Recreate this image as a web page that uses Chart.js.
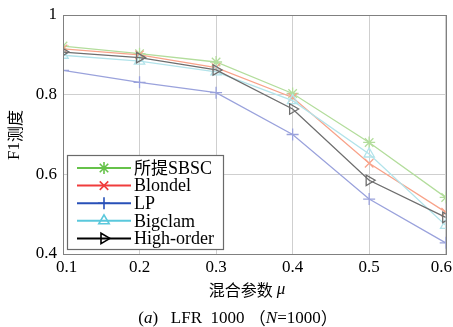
<!DOCTYPE html>
<html><head><meta charset="utf-8">
<script src="https://cdn.jsdelivr.net/npm/chart.js@4/dist/chart.umd.min.js"></script>
<style>html,body{margin:0;padding:0;background:#fff}#wrap{width:453px;height:327px}</style>
</head><body><div id="wrap"><canvas id="c" width="453" height="327"></canvas></div>
<script>
const mu = [0.1, 0.2, 0.3, 0.4, 0.5, 0.6];
const xTickLabels = ['0.1','0.2','0.3','0.4','0.5','0.6'];
const yTickLabels = ['0.4','0.6','0.8','1'];
const seriesNames = ['所提SBSC','Blondel','LP','Bigclam','High-order'];
const sbsc      = [0.922, 0.903, 0.882, 0.803, 0.680, 0.542];
const blondel   = [0.915, 0.900, 0.868, 0.793, 0.628, 0.505];
const lp        = [0.861, 0.831, 0.805, 0.700, 0.538, 0.428];
const bigclam   = [0.899, 0.884, 0.857, 0.785, 0.651, 0.472];
const highOrder = [0.907, 0.893, 0.862, 0.764, 0.585, 0.492];
const xTitle = '混合参数';
const yTitle = ['F1','测度'];

const SERIF = '"Liberation Serif","DejaVu Serif",serif';
const CJK = '"Noto Sans CJK SC","Liberation Serif",serif';

const lineColors = ['#b3dd9c','#f8a38a','#9aa2dc','#b2e3ea','#6e6e6e'];
const legendColors = ['#66c24a','#f03c3c','#2850b8','#5ac8dc','#000000'];
const styles = ['star','crossRot','cross','triangle','triangle'];
const rots = [0,0,0,0,90];
const allData = [sbsc, blondel, lp, bigclam, highOrder];

const datasets = allData.map((d,i)=>({
  label: seriesNames[i],
  data: d.map((v,j)=>({x: mu[j], y: v})),
  borderColor: lineColors[i],
  backgroundColor: 'rgba(0,0,0,0)',
  borderWidth: 1.3,
  pointStyle: styles[i],
  pointRotation: rots[i],
  pointRadius: 6,
  pointBorderColor: lineColors[i],
  pointBackgroundColor: 'rgba(0,0,0,0)',
  pointBorderWidth: 1.3,
  tension: 0,
  order: 5 - i
}));

function drawPieces(ctx, pieces, cx, cy) {
  let total = 0;
  pieces.forEach(p => { ctx.font = p[1]; total += ctx.measureText(p[0]).width; });
  let x = cx - total/2;
  ctx.textBaseline = 'middle';
  ctx.textAlign = 'left';
  pieces.forEach(p => { ctx.font = p[1]; ctx.fillText(p[0], x, cy); x += ctx.measureText(p[0]).width; });
}

const extras = {
  id: 'extras',
  afterDraw(chart) {
    const ctx = chart.ctx;
    const a = chart.chartArea;
    ctx.save();
    // box
    ctx.strokeStyle = '#808080';
    ctx.lineWidth = 1;
    ctx.strokeRect(Math.round(a.left)+0.5, Math.round(a.top)+0.5, Math.round(a.right-a.left), Math.round(a.bottom-a.top));
    // x tick labels (kept inside the picture at the edges)
    const xs = chart.scales.x;
    ctx.fillStyle = '#000';
    ctx.font = '17px ' + SERIF;
    ctx.textAlign = 'center';
    ctx.textBaseline = 'middle';
    mu.forEach((v, i) => {
      const w = ctx.measureText(xTickLabels[i]).width;
      let px = xs.getPixelForValue(v);
      px = Math.max(56 + w/2, Math.min(452 - w/2, px));
      ctx.fillText(xTickLabels[i], px, 268);
    });
    // legend
    const lx = 67, ly = 155, lw = 156, lh = 94;
    ctx.fillStyle = '#fff';
    ctx.fillRect(lx, ly, lw, lh);
    ctx.strokeStyle = '#6a6a6a';
    ctx.lineWidth = 1.2;
    ctx.strokeRect(lx+0.5, ly+0.5, lw, lh);
    for (let i = 0; i < seriesNames.length; i++) {
      const y = 168 + i*17.6;
      ctx.strokeStyle = legendColors[i];
      ctx.lineWidth = 2;
      ctx.beginPath(); ctx.moveTo(77, y); ctx.lineTo(131, y); ctx.stroke();
      ctx.lineWidth = 1.6;
      ctx.fillStyle = 'rgba(0,0,0,0)';
      Chart.helpers.drawPoint(ctx, {pointStyle: styles[i], rotation: rots[i], radius: 6, borderWidth: 1.6}, 104, y);
      ctx.fillStyle = '#000';
      ctx.textBaseline = 'middle';
      ctx.textAlign = 'left';
      const name = seriesNames[i];
      if (i === 0) {
        ctx.font = '17px ' + CJK;
        ctx.fillText('所提', 134, y);
        const w = ctx.measureText('所提').width;
        ctx.font = '18px ' + SERIF;
        ctx.fillText('SBSC', 134 + w, y + 1);
      } else {
        ctx.font = '18px ' + SERIF;
        ctx.fillText(name, 134, y + 1);
      }
    }
    // x title
    ctx.fillStyle = '#000';
    drawPieces(ctx, [[xTitle, '16px ' + CJK], [' ', '16px ' + SERIF], ['μ', 'italic 17px ' + SERIF]], 247, 290);
    // caption
    drawPieces(ctx, [['(', '17px ' + SERIF], ['a', 'italic 17px ' + SERIF], [')   LFR  1000 ', '17px ' + SERIF], ['（', '17px ' + CJK], ['N', 'italic 17px ' + SERIF], ['=1000', '17px ' + SERIF], ['）', '17px ' + CJK]], 238, 319);
    // y title
    ctx.save();
    ctx.translate(15, 135);
    ctx.rotate(-Math.PI/2);
    drawPieces(ctx, [[yTitle[0], '17px ' + SERIF], [yTitle[1], '16px ' + CJK]], 0, 0);
    ctx.restore();
    ctx.restore();
  }
};

new Chart(document.getElementById('c'), {
  type: 'line',
  data: { datasets },
  options: {
    responsive: false,
    animation: false,
    devicePixelRatio: 1,
    layout: { padding: { left: 0, top: 15, right: 7, bottom: 0 } },
    plugins: { legend: { display: false }, tooltip: { enabled: false } },
    scales: {
      x: {
        type: 'linear', min: 0.1, max: 0.6,
        afterFit(s) { s.height = 73; s.paddingLeft = 0; s.paddingRight = 0; },
        afterBuildTicks(s) { s.ticks = mu.map(v => ({value: v})); },
        ticks: { display: false, maxRotation: 0 },
        grid: { color: '#cfcfcf', lineWidth: 1, drawTicks: false },
        border: { color: '#808080' }
      },
      y: {
        type: 'linear', min: 0.4, max: 1,
        afterFit(s) { s.width = 63; s.paddingTop = 0; s.paddingBottom = 0; },
        afterBuildTicks(s) { s.ticks = [0.4, 0.6, 0.8, 1].map(v => ({value: v})); },
        ticks: { color: '#000', font: { family: SERIF, size: 17 }, padding: 6,
          callback: (v, i) => yTickLabels[i] },
        grid: { color: '#cfcfcf', lineWidth: 1, drawTicks: false },
        border: { color: '#808080' }
      }
    }
  },
  plugins: [extras]
});
</script>
</body></html>
